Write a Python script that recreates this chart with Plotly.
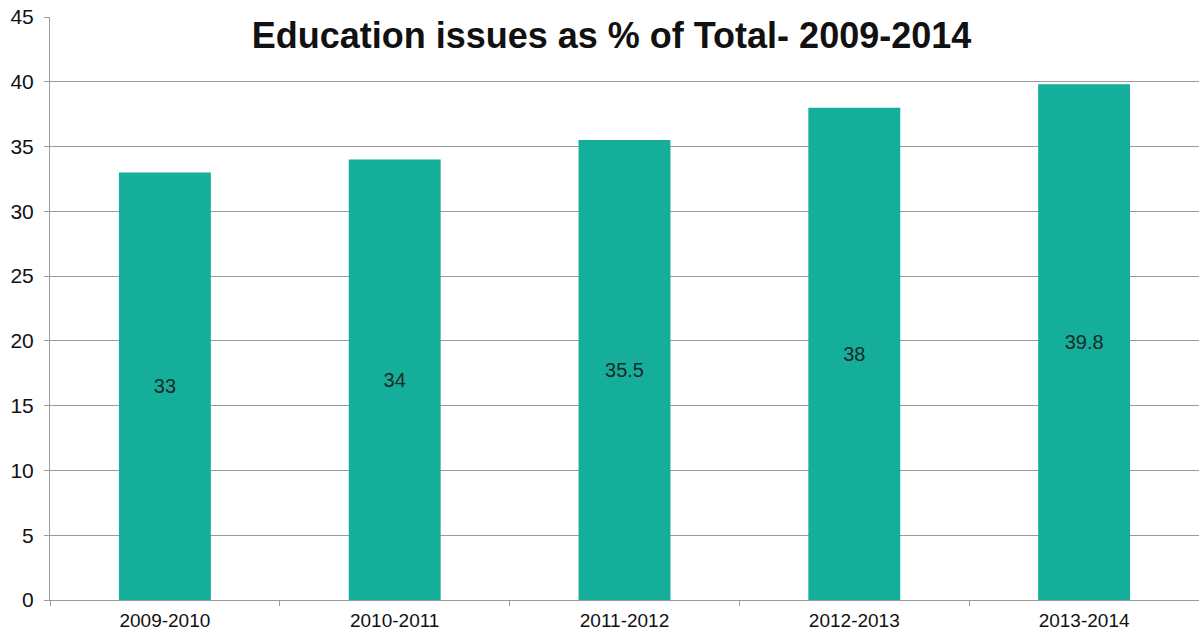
import plotly.graph_objects as go

# Share of education issues in total, by academic year
years = ["2009-2010", "2010-2011", "2011-2012", "2012-2013", "2013-2014"]
share = [33, 34, 35.5, 38, 39.8]
labels = ["33", "34", "35.5", "38", "39.8"]
y_ticks = [0, 5, 10, 15, 20, 25, 30, 35, 40, 45]

fig = go.Figure(
    go.Bar(
        x=years,
        y=share,
        text=labels,
        textposition="inside",
        insidetextanchor="middle",
        textangle=0,
        textfont=dict(family="Liberation Sans, Arial, sans-serif", size=20, color="#1a2a2a"),
        marker=dict(color="#15ae9b", line=dict(width=0)),
        width=0.4,
    )
)

fig.update_layout(
    width=1199,
    height=638,
    margin=dict(l=50, r=0, t=17, b=38),
    paper_bgcolor="white",
    plot_bgcolor="white",
    showlegend=False,
    font=dict(family="Liberation Sans, Arial, sans-serif", color="#111111"),
    title=dict(
        text="<b>Education issues as % of Total- 2009-2014</b>",
        x=0.51,
        xanchor="center",
        y=0.945,
        yanchor="middle",
        font=dict(size=36, color="#111111"),
    ),
)

fig.update_yaxes(
    range=[0, 45],
    tickvals=y_ticks,
    showgrid=True,
    gridcolor="#9a9a9a",
    gridwidth=1,
    showline=True,
    linecolor="#9a9a9a",
    linewidth=1,
    ticks="outside",
    ticklen=5,
    tickcolor="#9a9a9a",
    ticklabelstandoff=6,
    tickfont=dict(size=21, color="#111111"),
    zeroline=False,
)

fig.update_xaxes(
    showline=True,
    linecolor="#9a9a9a",
    linewidth=1,
    ticks="outside",
    tickson="boundaries",
    ticklen=5,
    tickcolor="#9a9a9a",
    ticklabelstandoff=3,
    tickfont=dict(size=19, color="#111111"),
)

fig.write_html("out.html")
